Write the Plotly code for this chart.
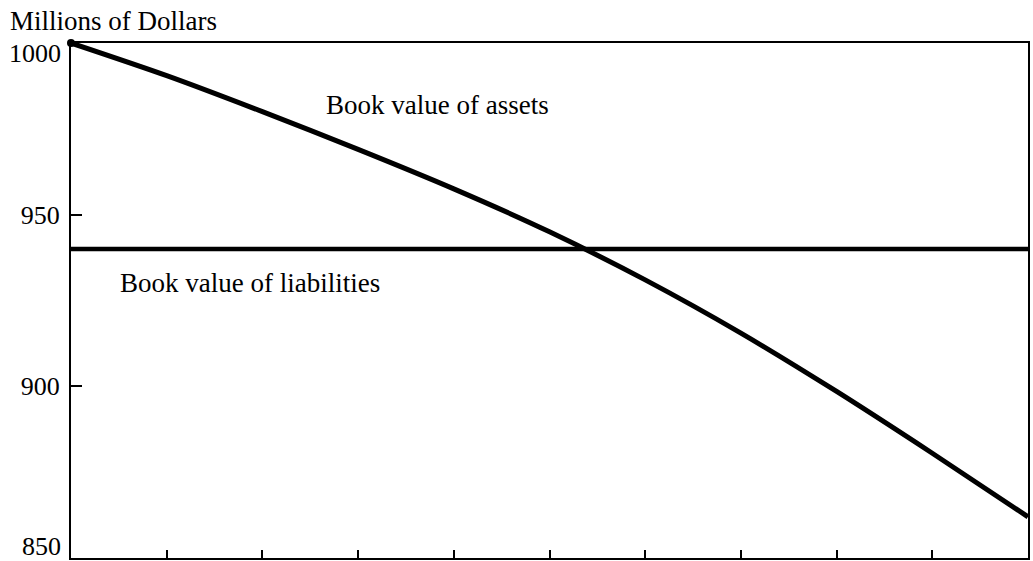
import plotly.graph_objects as go

# Data
periods = [0, 1, 2, 3, 4, 5, 6, 7, 8, 9, 10]
assets = [1000, 990.5, 980, 969, 957.5, 945, 931, 915.5, 898.5, 880.5, 862]
liabilities_value = 940
y_ticks = [850, 900, 950, 1000]
y_tick_labels = ["850", "900", "950", "1000"]
x_ticks = [0, 1, 2, 3, 4, 5, 6, 7, 8, 9, 10]

label_assets = "Book value of assets"
label_liabilities = "Book value of liabilities"
y_title = "Millions of Dollars"

FONT = "Liberation Serif, Times New Roman, serif"
FS = 27

fig = go.Figure()
fig.add_trace(go.Scatter(
    x=[periods[0], periods[-1]], y=[liabilities_value, liabilities_value],
    mode="lines", line=dict(color="black", width=4.5), hoverinfo="skip",
))
fig.add_trace(go.Scatter(
    x=periods, y=assets, mode="lines",
    line=dict(color="black", width=5, shape="spline", smoothing=0.8),
    hoverinfo="skip",
))
# round blob at start of assets line
fig.add_trace(go.Scatter(
    x=[periods[0]], y=[assets[0]], mode="markers",
    marker=dict(color="black", size=8), cliponaxis=False, hoverinfo="skip",
))

fig.add_annotation(x=3.83, y=982, text=label_assets, showarrow=False,
                   xanchor="center", yanchor="middle",
                   font=dict(family=FONT, size=FS, color="black"))
fig.add_annotation(x=0.49, y=930, text=label_liabilities, showarrow=False,
                   xanchor="left", yanchor="middle",
                   font=dict(family=FONT, size=FS, color="black"))
fig.add_annotation(x=0, xref="paper", xshift=-63, y=1, yref="paper", yshift=22,
                   text=y_title, showarrow=False, xanchor="left", yanchor="middle",
                   font=dict(family=FONT, size=FS, color="black"))

# End tick labels sit just inside the axis range in the reference
end_shift = {850: 12, 1000: -10}
ticktext = []
for v, lab in zip(y_ticks, y_tick_labels):
    if v in end_shift:
        ticktext.append("")
        fig.add_annotation(x=0, xref="paper", xshift=-9, y=v, yref="y",
                           yshift=end_shift[v], text=lab, showarrow=False,
                           xanchor="right", yanchor="middle", borderpad=0,
                           font=dict(family=FONT, size=26, color="black"))
    else:
        ticktext.append(lab)

fig.update_xaxes(
    range=[periods[0], periods[-1]], tickvals=x_ticks, showticklabels=False,
    ticks="inside", ticklen=8, tickwidth=2, tickcolor="black",
    showline=True, linecolor="black", linewidth=2, mirror=True,
    showgrid=False, zeroline=False,
)
fig.update_yaxes(
    range=[850, 1000], tickvals=y_ticks, ticktext=ticktext,
    ticks="inside", ticklen=11, tickwidth=2, tickcolor="black",
    showline=True, linecolor="black", linewidth=2, mirror=True,
    showgrid=False, zeroline=False, ticklabelstandoff=4,
    tickfont=dict(family=FONT, size=26, color="black"),
)

fig.update_layout(
    width=1033, height=561,
    margin=dict(l=71, r=3, t=43, b=3),
    paper_bgcolor="white", plot_bgcolor="white",
    showlegend=False,
    font=dict(family=FONT, size=FS, color="black"),
)

fig.write_html(
    "out.html",
    config={"displayModeBar": False},
    post_script="document.body.style.margin='0';document.body.style.overflow='hidden';",
)
